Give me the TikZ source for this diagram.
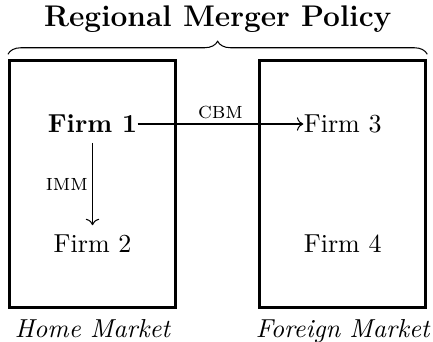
\documentclass[tikz,border=0pt]{standalone}
\usepackage{amsmath,amssymb}
\usepackage{tikz}
\usetikzlibrary{arrows.meta,positioning,decorations.pathreplacing}

\begin{document}
\begin{tikzpicture}[
  node distance=0.3pt,
  market/.style={draw,very thick,minimum width=2.245cm,minimum height=3.34cm,inner sep=0pt},
  firm/.style={inner xsep=0pt,inner ysep=3.6pt},
  tag/.style={font=\small\scshape,inner sep=1.6pt},
  mlabel/.style={font=\itshape},
  brace/.style={decorate,decoration={brace,amplitude=5pt}}]
  \useasboundingbox (0,0) rectangle (5.855,4.624);
  % the two markets
  \node[market] (home) at (1.251,2.136) {};
  \node[market] (foreign) at (4.634,2.136) {};
  \node[mlabel,below=of home] (homelbl) {Home Market};
  \node[mlabel,below=of foreign] (forlbl) {Foreign Market};
  % firms
  \node[firm,font=\bfseries] (f1) at (1.251,2.947) {Firm 1};
  \node[firm] (f2) at (1.251,1.325) {Firm 2};
  \node[firm] (f3) at (4.634,2.947) {Firm 3};
  \node[firm] (f4) at (4.634,1.325) {Firm 4};
  \draw[->] (f1) -- node[tag,above] {cbm} (f3);
  \draw[->] (f1) -- node[tag,left] {imm} (f2);
  % policy brace over both markets
  \coordinate (bl) at ([yshift=1.8pt]home.north west);
  \coordinate (br) at ([yshift=1.8pt]foreign.north east);
  \draw[brace] (bl) -- (br);
  \node[font=\fontsize{11.5pt}{14pt}\selectfont\bfseries,anchor=base] (policy) at (2.944,4.26) {Regional Merger Policy};
\end{tikzpicture}
\end{document}
